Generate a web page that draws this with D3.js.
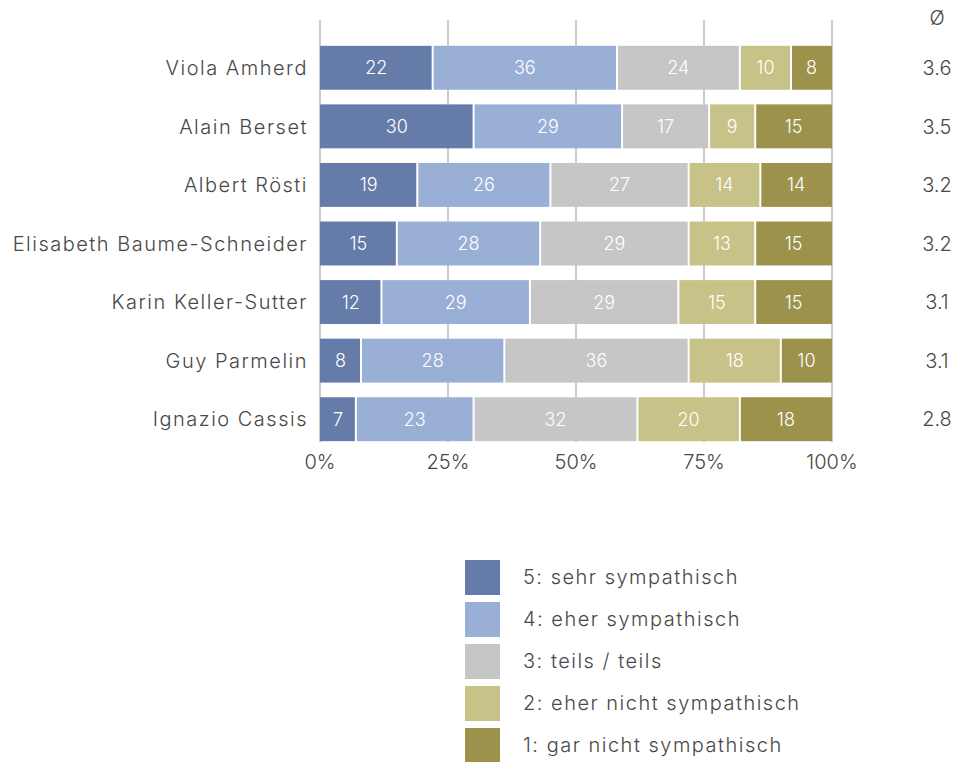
<!DOCTYPE html>
<html>
<head>
<meta charset="utf-8">
<script src="https://cdn.jsdelivr.net/npm/d3@7"></script>
<style>
  body { margin: 0; background: #fff; }
  svg text { font-family: "Inter", "Roboto", sans-serif; font-weight: 300; }
  .lbl { letter-spacing: 1.5px; }
</style>
</head>
<body>
<svg id="chart" width="957" height="762"></svg>
<script>
// data
var names = [ 'Viola Amherd', 'Alain Berset', 'Albert Rösti', 'Elisabeth Baume-Schneider',
	'Karin Keller-Sutter', 'Guy Parmelin', 'Ignazio Cassis' ];
var sehr = [ 22, 30, 19, 15, 12, 8, 7 ];
var eher = [ 36, 29, 26, 28, 29, 28, 23 ];
var teils = [ 24, 17, 27, 29, 29, 36, 32 ];
var eherNicht = [ 10, 9, 14, 13, 15, 18, 20 ];
var garNicht = [ 8, 15, 14, 15, 15, 10, 18 ];
var averages = [ '3.6', '3.5', '3.2', '3.2', '3.1', '3.1', '2.8' ];
var legendLabels = [ '5: sehr sympathisch', '4: eher sympathisch', '3: teils / teils',
	'2: eher nicht sympathisch', '1: gar nicht sympathisch' ];
var colors = [ '#647ca7', '#9aafd6', '#c6c6c6', '#c7c287', '#9c924c' ];
var ticks = [ 0, 25, 50, 75, 100 ];

var series = [ sehr, eher, teils, eherNicht, garNicht ];

var svg = d3.select( '#chart' );

var x = d3.scaleLinear().domain( [ 0, 100 ] ).range( [ 320, 832 ] );
var y = d3.scaleBand().domain( names ).range( [ 38.5, 448.5 ] )
	.paddingInner( 0.25 ).paddingOuter( 0.125 );

// grid lines (behind bars)
svg.append( 'g' ).selectAll( 'line' )
	.data( ticks )
	.enter().append( 'line' )
		.attr( 'x1', function( d ) { return x( d ); } )
		.attr( 'x2', function( d ) { return x( d ); } )
		.attr( 'y1', 20 )
		.attr( 'y2', 442 )
		.attr( 'stroke', '#aaa' )
		.attr( 'stroke-width', 1.2 );

// stacked rows
var rows = names.map( function( name, i ) {
	var start = 0;
	return series.map( function( s, k ) {
		var seg = { name: name, k: k, v: s[ i ], x0: start, x1: start + s[ i ] };
		start += s[ i ];
		return seg;
	} );
} );
var segs = d3.merge( rows );

var g = svg.append( 'g' );
g.selectAll( 'rect' )
	.data( segs )
	.enter().append( 'rect' )
		.attr( 'x', function( d ) { return x( d.x0 ) + ( d.k ? 1 : 0 ); } )
		.attr( 'width', function( d ) { return x( d.x1 ) - x( d.x0 ) - ( d.k ? 1 : 0 ) - ( d.k < 4 ? 1 : 0 ); } )
		.attr( 'y', function( d ) { return y( d.name ); } )
		.attr( 'height', y.bandwidth() )
		.attr( 'fill', function( d ) { return colors[ d.k ]; } );

g.selectAll( 'text' )
	.data( segs )
	.enter().append( 'text' )
		.text( function( d ) { return d.v; } )
		.attr( 'x', function( d ) { return ( x( d.x0 ) + x( d.x1 ) ) / 2; } )
		.attr( 'y', function( d ) { return y( d.name ) + y.bandwidth() / 2; } )
		.attr( 'dy', '0.36em' )
		.attr( 'text-anchor', 'middle' )
		.attr( 'fill', '#fff' )
		.attr( 'font-size', 18 );

// names
svg.append( 'g' ).selectAll( 'text' )
	.data( names )
	.enter().append( 'text' )
		.attr( 'class', 'lbl' )
		.text( function( d ) { return d; } )
		.attr( 'x', 308 )
		.attr( 'y', function( d ) { return y( d ) + y.bandwidth() / 2; } )
		.attr( 'dy', '0.36em' )
		.attr( 'text-anchor', 'end' )
		.attr( 'fill', '#484848' )
		.attr( 'font-size', 20 );

// averages
svg.append( 'text' )
	.text( 'Ø' )
	.attr( 'x', 937 ).attr( 'y', 18 ).attr( 'dy', '0.36em' )
	.attr( 'text-anchor', 'middle' )
	.attr( 'fill', '#484848' ).attr( 'font-size', 20 );

svg.append( 'g' ).selectAll( 'text' )
	.data( averages )
	.enter().append( 'text' )
		.text( function( d ) { return d; } )
		.attr( 'x', 937 )
		.attr( 'y', function( d, i ) { return y( names[ i ] ) + y.bandwidth() / 2; } )
		.attr( 'dy', '0.36em' )
		.attr( 'text-anchor', 'middle' )
		.attr( 'fill', '#484848' )
		.attr( 'font-size', 20 );

// x axis labels
svg.append( 'g' ).selectAll( 'text' )
	.data( ticks )
	.enter().append( 'text' )
		.text( function( d ) { return d + '%'; } )
		.attr( 'x', function( d ) { return x( d ); } )
		.attr( 'y', 462 )
		.attr( 'dy', '0.36em' )
		.attr( 'text-anchor', 'middle' )
		.attr( 'fill', '#484848' )
		.attr( 'font-size', 20 );

// legend
var legend = svg.append( 'g' ).selectAll( 'g' )
	.data( legendLabels )
	.enter().append( 'g' )
		.attr( 'transform', function( d, i ) { return 'translate(465,' + ( 560 + i * 42 ) + ')'; } );

legend.append( 'rect' )
	.attr( 'width', 35 ).attr( 'height', 35 )
	.attr( 'fill', function( d, i ) { return colors[ i ]; } );

legend.append( 'text' )
	.attr( 'class', 'lbl' )
	.text( function( d ) { return d; } )
	.attr( 'x', 58 ).attr( 'y', 17 ).attr( 'dy', '0.36em' )
	.attr( 'fill', '#484848' )
	.attr( 'font-size', 20 );
</script>
</body>
</html>
